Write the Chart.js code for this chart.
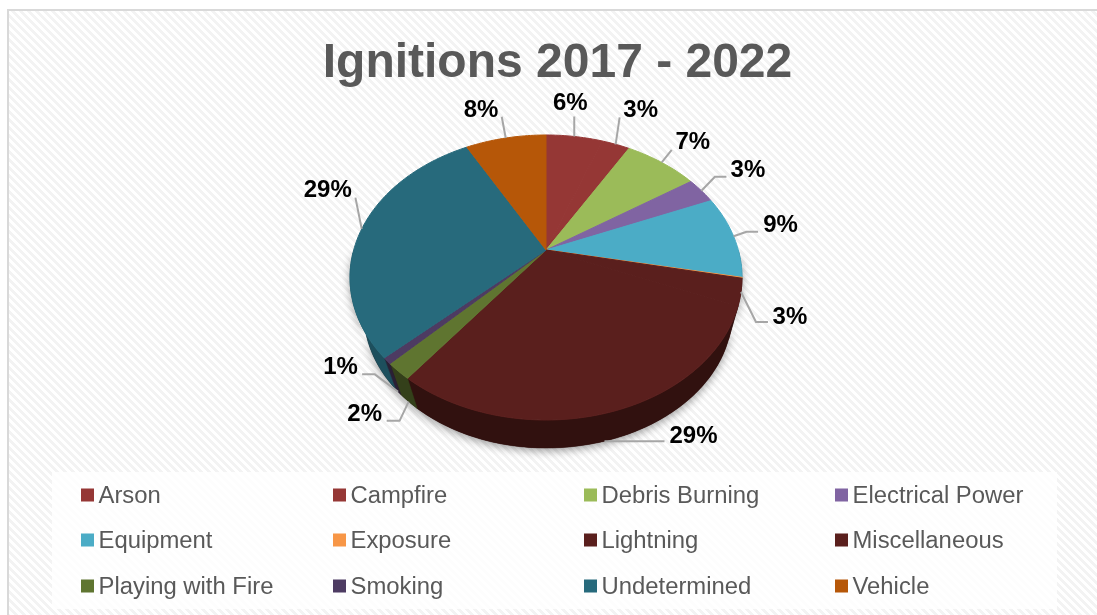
<!DOCTYPE html>
<html>
<head>
<meta charset="utf-8">
<title>Ignitions 2017 - 2022</title>
<script src="https://cdn.jsdelivr.net/npm/chart.js@4"></script>
<style>
  html, body { margin: 0; padding: 0; background: #fff; }
  canvas { display: block; }
</style>
</head>
<body>
<canvas id="chart" width="1097" height="615"></canvas>
<script>
// share of ignitions per cause, in percent
const categories = ["Arson","Campfire","Debris Burning","Electrical Power","Equipment","Exposure",
                    "Lightning","Miscellaneous","Playing with Fire","Smoking","Undetermined","Vehicle"];
const ignitions = [5.6,2.8,7.3,3.0,9.4,0.1,3.0,29.3,1.9,0.7,29.0,8.0];
const sliceColors = ["#953735","#953735","#9BBB59","#8064A2","#4BACC6","#F79646",
                     "#5A1F1D","#5A1F1D","#5F7530","#4D3B62","#276A7C","#B65708"];

// ----------------------------------------------------------------------
// the tilted pie: circle -> perspective ellipse, same numbers as the picture
const view = { cx: 546, cy: 250, a: 192.3, b: 137.2, k: 0.193, wallScale: 0.95, wallScaleLeft: 0.93, wallDrop: 36.5 };

function rim(theta) {
    const x = Math.cos(theta), y = Math.sin(theta), d = 1 - view.k * y;
    return { x: view.a * x / d, y: view.b * y / d };
}
const topPoint = (t) => { const p = rim(t); return [view.cx + p.x, view.cy + p.y]; };
const wallPoint = (t) => {
    const p = rim(t);
    const sx = p.x < 0 ? view.wallScaleLeft : view.wallScale;
    return [view.cx + sx * p.x, view.cy + view.wallDrop + view.wallScale * p.y];
};
function darken(hex, f) {
    const n = parseInt(hex.slice(1), 16);
    return `rgb(${(n >> 16) * f | 0},${((n >> 8) & 255) * f | 0},${(n & 255) * f | 0})`;
}
function sampleAngles(start, end) {
    const steps = Math.max(2, Math.ceil((end - start) / 0.02));
    const out = [];
    for (let i = 0; i <= steps; i++) out.push(start + (end - start) * i / steps);
    return out;
}

// leader lines, relative to the point where they leave the slice
// [elbow offset or null, outer end offset, text centre offset]
const leaders = [
    [null,           [0,-20],      [-4,-33]],
    [null,           [4,-27],      [25,-34]],
    [null,           [10,-12.5],   [31,-20.5]],
    [[13.5,-14],     [25,-14],     [46.5,-20]],
    [[13,-4.5],      [24.5,-4.5],  [47,-10.5]],
    null,
    [[15,30],        [27,30],      [49,25]],
    [[36,0],         [60,0],       [89,-4.5]],
    [[-9,19],        [-22,19],     [-44,13]],
    [[-23.6,-17.6],  [-36,-17.6],  [-57.6,-24.5]],
    [null,           [-6.3,-31.4], [-34,-38.7]],
    [null,           [-4,-21.3],   [-24.7,-28]]
];

const pie3d = {
    id: 'pie3d',
    beforeDatasetsDraw(chart) {
        const ctx = chart.ctx;
        const arcs = chart.getDatasetMeta(0).data;

        // soft shadow under the whole front wall
        ctx.save();
        ctx.shadowColor = 'rgba(0,0,0,0.38)';
        ctx.shadowBlur = 9;
        ctx.shadowOffsetY = 3;
        ctx.fillStyle = '#2d0f0e';
        ctx.beginPath();
        sampleAngles(0, Math.PI).forEach(t => ctx.lineTo(...wallPoint(t)));
        sampleAngles(0, Math.PI).reverse().forEach(t => ctx.lineTo(...topPoint(t)));
        ctx.closePath();
        ctx.fill();
        ctx.restore();

        // side walls
        arcs.forEach((arc, i) => {
            const ts = sampleAngles(arc.startAngle, arc.endAngle).filter(t => Math.sin(t) >= 0);
            if (ts.length < 2) return;
            const c = darken(sliceColors[i], i === 10 ? 0.75 : 0.55);
            ctx.fillStyle = c;
            ctx.strokeStyle = c;
            ctx.lineWidth = 0.5;
            ctx.beginPath();
            ts.forEach(t => ctx.lineTo(...topPoint(t)));
            ts.slice().reverse().forEach(t => ctx.lineTo(...wallPoint(t)));
            ctx.closePath();
            ctx.fill();
            ctx.stroke();
        });

        // top faces
        arcs.forEach((arc, i) => {
            ctx.fillStyle = sliceColors[i];
            ctx.strokeStyle = sliceColors[i];
            ctx.lineWidth = 1;
            ctx.lineJoin = 'round';
            ctx.beginPath();
            ctx.moveTo(view.cx, view.cy);
            sampleAngles(arc.startAngle, arc.endAngle).forEach(t => ctx.lineTo(...topPoint(t)));
            ctx.closePath();
            ctx.fill();
            ctx.stroke();
        });

        // percentage labels with leader lines
        const total = ignitions.reduce((a, b) => a + b, 0);
        ctx.font = 'bold 24px "Liberation Sans"';
        ctx.textAlign = 'center';
        ctx.textBaseline = 'middle';
        arcs.forEach((arc, i) => {
            const pct = Math.round(ignitions[i] / total * 100);
            const spot = leaders[i];
            if (!pct || !spot) return;
            const mid = (arc.startAngle + arc.endAngle) / 2;
            const [ax, ay] = Math.sin(mid) > 0.5 ? wallPoint(mid) : topPoint(mid);
            const [elbow, end, text] = spot;
            ctx.strokeStyle = '#a6a6a6';
            ctx.lineWidth = 2;
            ctx.beginPath();
            ctx.moveTo(ax, ay);
            if (elbow) ctx.lineTo(ax + elbow[0], ay + elbow[1]);
            ctx.lineTo(ax + end[0], ay + end[1]);
            ctx.stroke();
            ctx.fillStyle = '#000';
            ctx.fillText(pct + '%', ax + text[0], ay + text[1]);
        });
        return false;
    }
};

// hatched backdrop, frame and the pale legend panel
const backdrop = {
    id: 'backdrop',
    beforeDraw(chart) {
        const ctx = chart.ctx;
        const tile = document.createElement('canvas');
        tile.width = tile.height = 8;
        const t = tile.getContext('2d');
        t.fillStyle = '#fff';
        t.fillRect(0, 0, 8, 8);
        t.fillStyle = '#f3f3f3';
        for (let y = 0; y < 8; y++) for (let x = 0; x < 8; x++) {
            if ((x - y + 8) % 8 < 4) t.fillRect(x, y, 1, 1);
        }
        ctx.save();
        ctx.fillStyle = '#fff';
        ctx.fillRect(0, 0, chart.width, chart.height);
        ctx.fillStyle = ctx.createPattern(tile, 'repeat');
        ctx.fillRect(9, 11, chart.width - 9, chart.height - 11);
        ctx.fillStyle = '#d9d9d9';
        ctx.fillRect(7, 9, 2, chart.height - 9);
        ctx.fillRect(7, 9, chart.width - 7, 2);
        ctx.fillStyle = 'rgba(255,255,255,0.8)';
        ctx.fillRect(52, 472, 1005, 137);
        ctx.restore();
    }
};

// four fixed columns, which the stock legend can not do
const gridLegend = {
    id: 'gridLegend',
    afterDraw(chart) {
        const ctx = chart.ctx;
        const colX = [81, 333, 584, 835], rowY = [495, 540, 586];
        ctx.save();
        ctx.font = '23.85px "Liberation Sans"';
        ctx.textAlign = 'left';
        ctx.textBaseline = 'middle';
        categories.forEach((name, i) => {
            const x = colX[i % 4], y = rowY[Math.floor(i / 4)];
            ctx.fillStyle = sliceColors[i];
            ctx.fillRect(x, y - 6.5, 13, 13);
            ctx.fillStyle = '#595959';
            ctx.fillText(name, x + 17.5, y + 1);
        });
        ctx.restore();
    }
};

const config = {
    type: 'pie',
    data: {
        labels: categories,
        datasets: [{ data: ignitions, backgroundColor: sliceColors, borderWidth: 0 }]
    },
    options: {
        responsive: false,
        animation: false,
        layout: { padding: { left: 18, top: 25 } },
        plugins: {
            legend: { display: false },
            tooltip: { enabled: false },
            title: {
                display: true,
                text: 'Ignitions 2017 - 2022',
                color: '#595959',
                font: { family: '"Liberation Sans"', size: 48, weight: 'bold' }
            }
        }
    },
    plugins: [backdrop, pie3d, gridLegend]
};

new Chart(document.getElementById('chart'), config);
</script>
</body>
</html>
